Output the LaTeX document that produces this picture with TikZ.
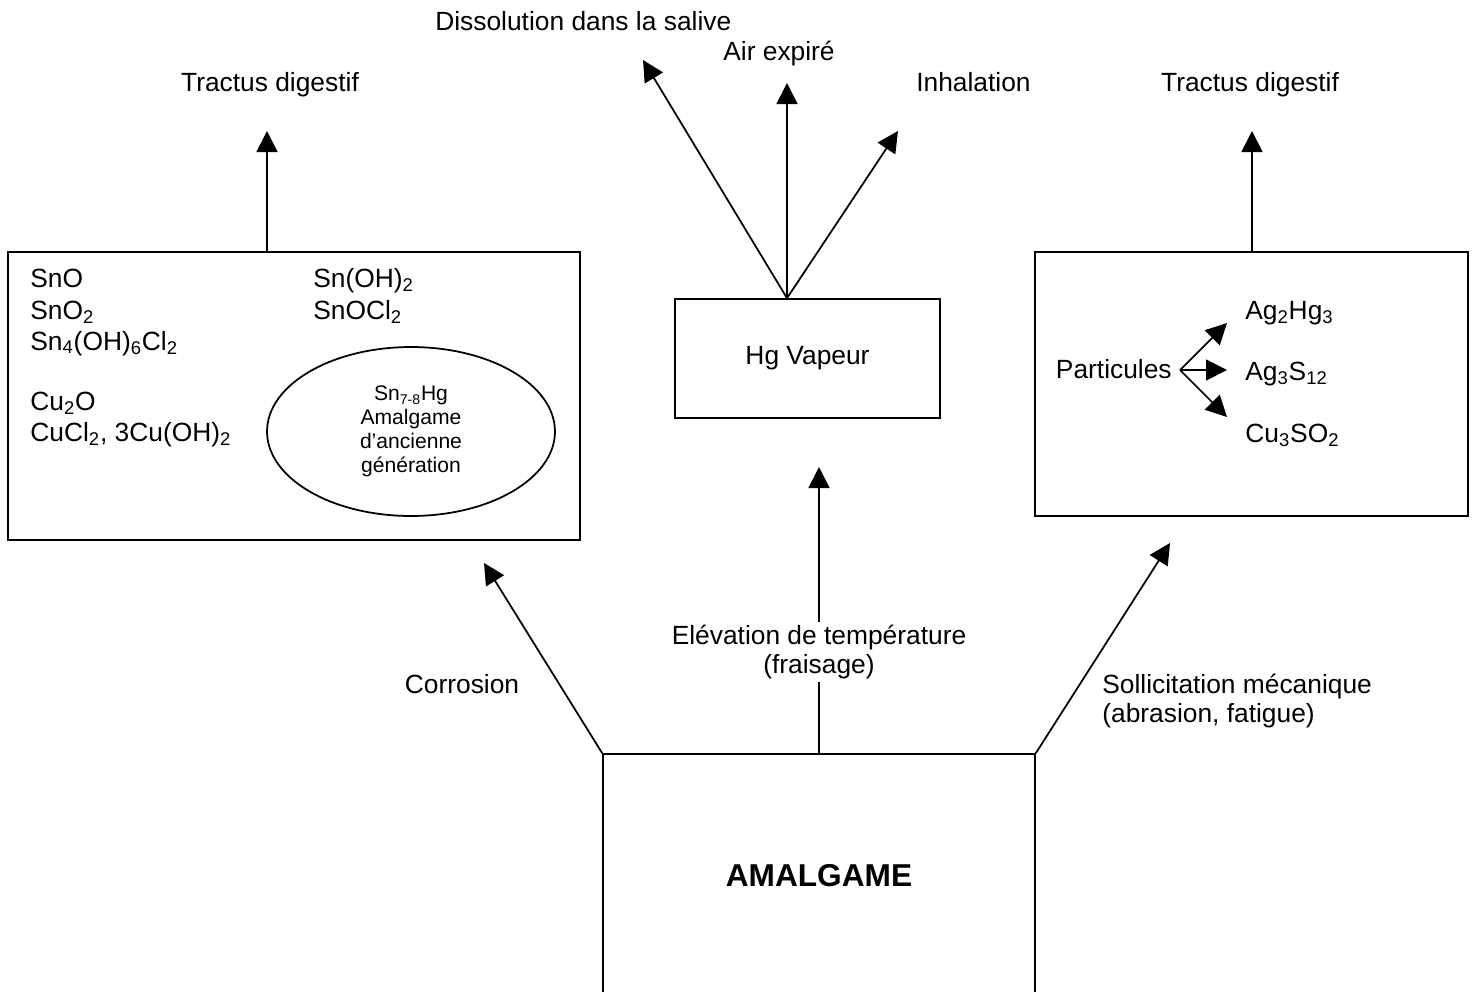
\documentclass[tikz,border=0pt]{standalone}
\usepackage{fontspec}
\setmainfont{Liberation Sans}
\usetikzlibrary{arrows.meta,shapes.geometric}

\begin{document}
\begin{tikzpicture}[x=0.02cm,y=-0.02cm,
		txt/.style={font=\fontsize{15}{16}\selectfont,inner sep=0pt},
		box/.style={draw,line width=1pt,inner sep=0pt},
		arr/.style={line width=1pt,-{Triangle[width=0.42cm,length=0.42cm]}}]
		\useasboundingbox (0,0) rectangle (1477,991);
		\clip (0,0) rectangle (1477,991);

		% Boxes
		\node[box,minimum width=11.44cm,minimum height=5.76cm] (corr) at (294,396) {};
		\node[box,ellipse,minimum width=5.76cm,minimum height=3.38cm,align=center,
			font=\fontsize{12}{13.6}\selectfont] (old) at (411,431.5)
			{Sn\textsubscript{7-8}Hg\\Amalgame\\d’ancienne\\génération};
		\node[box,txt,minimum width=5.3cm,minimum height=2.38cm] (hg) at (807.5,358.5) {Hg Vapeur};
		\node[box,minimum width=8.66cm,minimum height=5.28cm] (meca) at (1251.5,384) {};
		\node[box,minimum width=8.64cm,minimum height=4.88cm,
			font=\fontsize{18}{20}\selectfont\bfseries] (amal) at (819,876) {AMALGAME};

		% Corrosion products
		\node[txt,anchor=base west] (f1) at (30,287) {SnO};
		\node[txt,anchor=base west] (f2) at (30,319) {SnO\textsubscript{2}};
		\node[txt,anchor=base west] (f3) at (30,350) {Sn\textsubscript{4}(OH)\textsubscript{6}Cl\textsubscript{2}};
		\node[txt,anchor=base west] (f4) at (30,410) {Cu\textsubscript{2}O};
		\node[txt,anchor=base west] (f5) at (30,441) {CuCl\textsubscript{2}, 3Cu(OH)\textsubscript{2}};
		\node[txt,anchor=base west] (f6) at (313,287) {Sn(OH)\textsubscript{2}};
		\node[txt,anchor=base west] (f7) at (313,319) {SnOCl\textsubscript{2}};

		% Particles
		\node[txt,anchor=base east] (part) at (1172,378) {Particules};
		\node[txt,anchor=base west] (p1) at (1245,319) {Ag\textsubscript{2}Hg\textsubscript{3}};
		\node[txt,anchor=base west] (p2) at (1245,380) {Ag\textsubscript{3}S\textsubscript{12}};
		\node[txt,anchor=base west] (p3) at (1245,442) {Cu\textsubscript{3}SO\textsubscript{2}};
		\coordinate (fork) at (1180,370);
		\coordinate (t1) at (1227,323);
		\coordinate (t2) at (1227,370);
		\coordinate (t3) at (1227,417);
		\draw[arr] (fork) -- (t1);
		\draw[arr] (fork) -- (t2);
		\draw[arr] (fork) -- (t3);

		% Top labels
		\node[txt,anchor=base] (tdl) at (270,91) {Tractus digestif};
		\node[txt,anchor=base west] (diss) at (435,30) {Dissolution dans la salive};
		\node[txt,anchor=base west] (air) at (723,60) {Air expiré};
		\node[txt,anchor=base west] (inh) at (916,91) {Inhalation};
		\node[txt,anchor=base] (tdr) at (1250,91) {Tractus digestif};

		% Top edges
		\coordinate (tipL) at (267,131);
		\coordinate (tipR) at (1252,131);
		\coordinate (tipDiss) at (643,60);
		\coordinate (tipAir) at (787,83);
		\coordinate (tipInh) at (898,131);
		\draw[arr] (corr.north -| tipL) -- (tipL);
		\draw[arr] (meca.north -| tipR) -- (tipR);
		\draw[arr] (hg.north -| tipAir) -- (tipDiss);
		\draw[arr] (hg.north -| tipAir) -- (tipAir);
		\draw[arr] (hg.north -| tipAir) -- (tipInh);

		% Bottom edges
		\coordinate (tipCorr) at (484,563);
		\coordinate (tipHeat) at (819,467);
		\coordinate (tipMec) at (1170,543);
		\draw[arr] (amal.north west) -- (tipCorr);
		\draw[arr] (amal.north) -- (tipHeat);
		\draw[arr] (amal.north east) -- (tipMec);

		% Bottom labels
		\node[txt,anchor=base] (corrlbl) at (462,693) {Corrosion};
		\node[txt,align=center,fill=white,inner sep=2pt] (heat) at (819,652) {Elévation de température\\(fraisage)};
		\node[txt,anchor=base west] (mec1) at (1102,693) {Sollicitation mécanique};
		\node[txt,anchor=base west] (mec2) at (1102,722) {(abrasion, fatigue)};

	\end{tikzpicture}
\end{document}
